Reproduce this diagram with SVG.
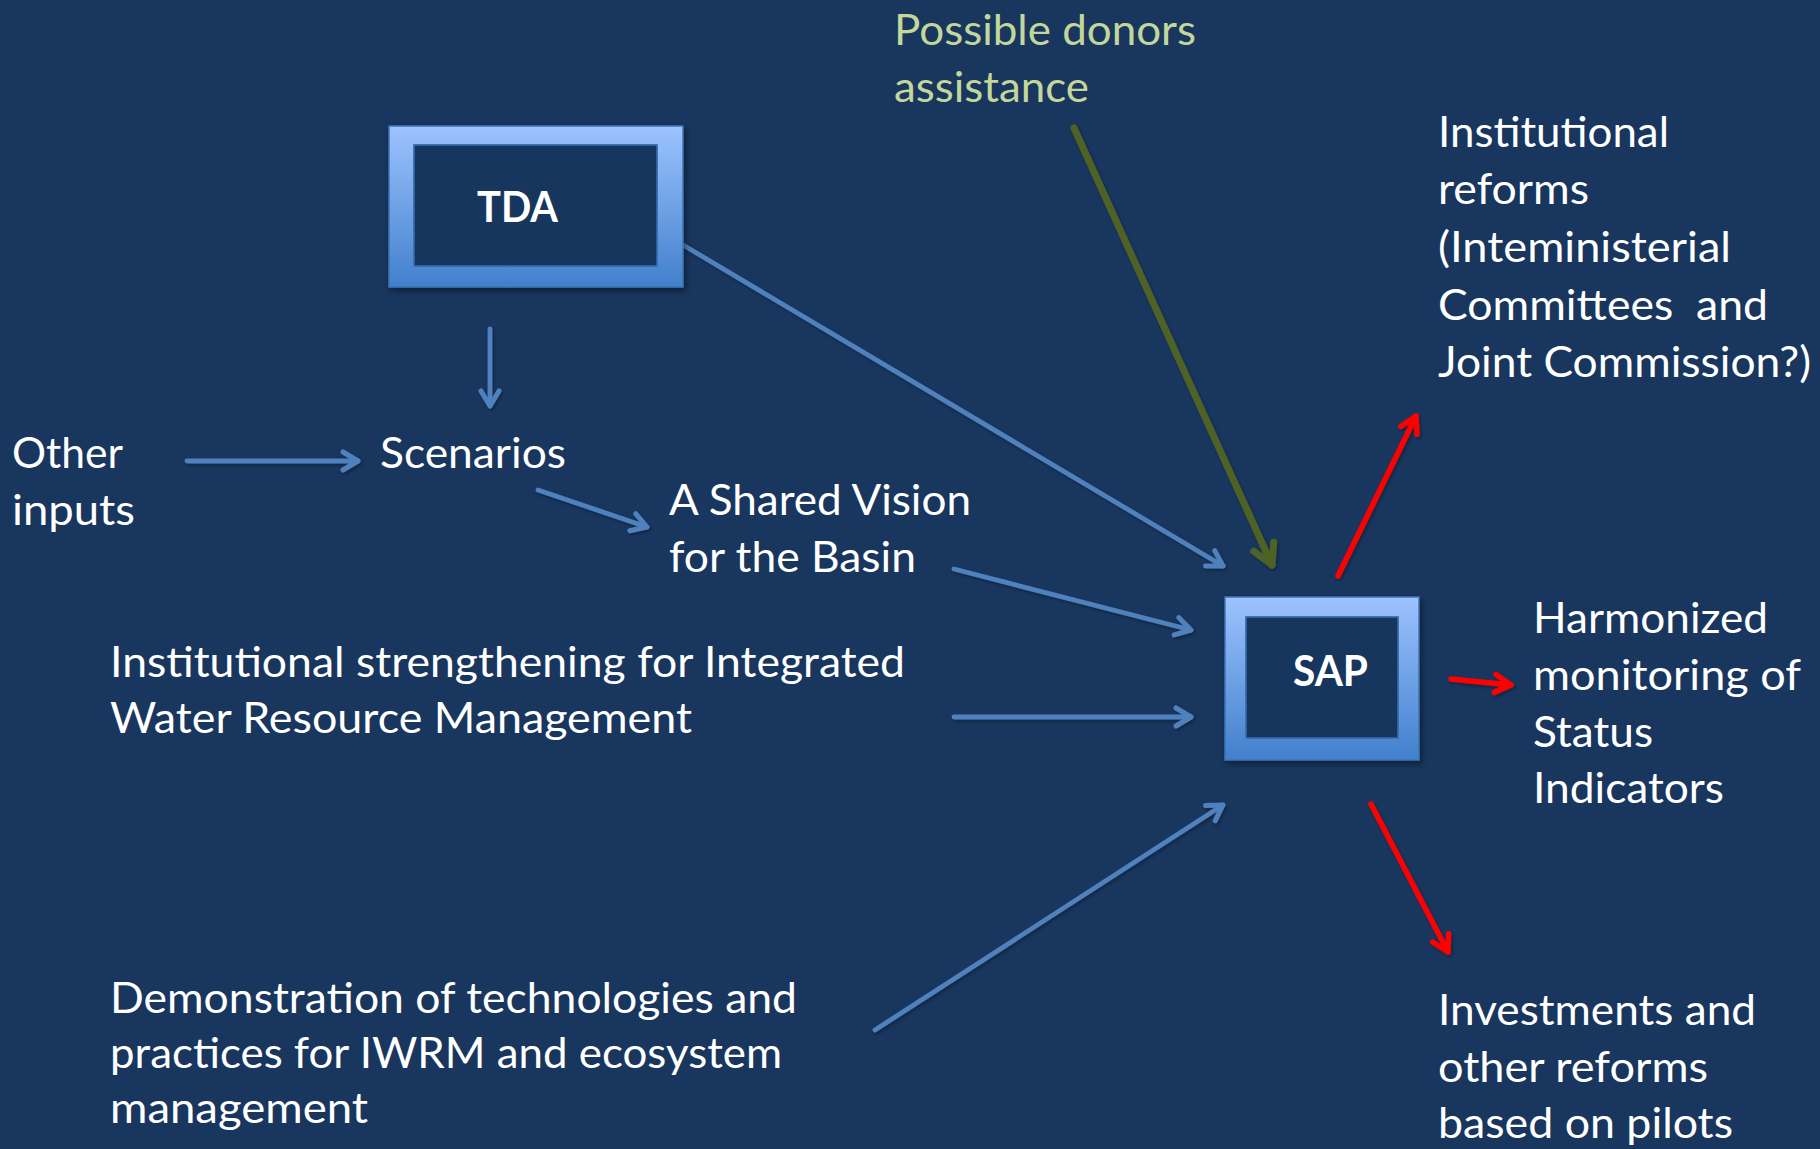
<svg xmlns="http://www.w3.org/2000/svg" width="1820" height="1149" viewBox="0 0 1820 1149">
<defs>
<linearGradient id="frameGrad" x1="0" y1="0" x2="0" y2="1">
<stop offset="0" stop-color="#9DC3FF"/>
<stop offset="1" stop-color="#4180CC"/>
</linearGradient>
<filter id="shadow" x="-10%" y="-10%" width="130%" height="130%">
<feDropShadow dx="2" dy="3" stdDeviation="3" flood-color="#000" flood-opacity="0.45"/>
</filter>
<filter id="lshadow" x="-10%" y="-10%" width="120%" height="120%">
<feDropShadow dx="1.5" dy="2" stdDeviation="1.5" flood-color="#000" flood-opacity="0.3"/>
</filter>
<marker id="ahBlue" markerUnits="userSpaceOnUse" markerWidth="40" markerHeight="40" refX="0" refY="0" orient="auto" overflow="visible">
<path d="M-15,-9 L0,0 L-15,9" fill="none" stroke="#4F81BD" stroke-width="5" stroke-linecap="round" stroke-linejoin="round"/>
</marker>
<marker id="ahRed" markerUnits="userSpaceOnUse" markerWidth="40" markerHeight="40" refX="0" refY="0" orient="auto" overflow="visible">
<path d="M-16,-9 L0,0 L-16,9" fill="none" stroke="#FF0000" stroke-width="5.5" stroke-linecap="round" stroke-linejoin="round"/>
</marker>
<marker id="ahGreen" markerUnits="userSpaceOnUse" markerWidth="40" markerHeight="40" refX="0" refY="0" orient="auto" overflow="visible">
<path d="M-20,-11 L0,0 L-20,11" fill="none" stroke="#4F6228" stroke-width="7" stroke-linecap="round" stroke-linejoin="round"/>
</marker>
</defs>
<style>
.t{font-family:"Lato","Carlito","Liberation Sans",sans-serif;font-size:42px;fill:#FFFFFF;}
.g{fill:#C3D69B;}
.b{font-weight:bold;}
.blue{stroke:#4F81BD;stroke-width:4.8;fill:none;marker-end:url(#ahBlue);}
.red{stroke:#FF0000;stroke-width:5.5;fill:none;marker-end:url(#ahRed);}
.green{stroke:#4F6228;stroke-width:7;fill:none;marker-end:url(#ahGreen);}
.frame{fill:url(#frameGrad);stroke:#3F74B8;stroke-width:1.5;}
.inner{fill:#17365D;stroke:#3A6DB0;stroke-width:1.5;}
</style>
<rect x="0" y="0" width="1820" height="1149" fill="#18365E"/>

<g id="connectors" filter="url(#lshadow)" stroke-linecap="round">
<line class="blue" x1="683" y1="245" x2="1223" y2="566"/>
<line class="blue" x1="490" y1="329" x2="490" y2="406"/>
<line class="blue" x1="187" y1="461" x2="358" y2="461"/>
<line class="blue" x1="538" y1="490" x2="647" y2="527"/>
<line class="blue" x1="954" y1="569" x2="1191" y2="630"/>
<line class="blue" x1="954" y1="717" x2="1191" y2="717"/>
<line class="blue" x1="875" y1="1030" x2="1223" y2="805"/>
<line class="green" x1="1074" y1="128" x2="1272" y2="565"/>
<line class="red" x1="1338" y1="576" x2="1416" y2="416"/>
<line class="red" x1="1451" y1="679" x2="1511" y2="685"/>
<line class="red" x1="1371" y1="804" x2="1448" y2="952"/>
</g>

<g id="node-tda">
<g filter="url(#shadow)">
<path class="frame" fill-rule="evenodd" d="M389,126 H683 V287 H389 Z M414,145 V266 H657 V145 Z"/>
</g>
<rect class="inner" x="414" y="145" width="243" height="121"/>
<text class="t b" x="477" y="222" textLength="81" lengthAdjust="spacingAndGlyphs">TDA</text>
</g>

<g id="node-sap">
<g filter="url(#shadow)">
<path class="frame" fill-rule="evenodd" d="M1225,597 H1419 V760 H1225 Z M1246,617 V738 H1398 V617 Z"/>
</g>
<rect class="inner" x="1246" y="617" width="152" height="121"/>
<text class="t b" x="1293" y="686" textLength="75" lengthAdjust="spacingAndGlyphs">SAP</text>
</g>

<g id="node-donors">
<text class="t g" x="894" y="45" textLength="302" lengthAdjust="spacingAndGlyphs">Possible donors</text>
<text class="t g" x="894" y="102" textLength="195" lengthAdjust="spacingAndGlyphs">assistance</text>
</g>

<g id="node-institutional-reforms">
<text class="t" x="1438" y="147" textLength="231" lengthAdjust="spacingAndGlyphs">Institutional</text>
<text class="t" x="1438" y="204" textLength="151" lengthAdjust="spacingAndGlyphs">reforms</text>
<text class="t" x="1438" y="262" textLength="293" lengthAdjust="spacingAndGlyphs">(Inteministerial</text>
<text class="t" x="1438" y="320" textLength="330" lengthAdjust="spacingAndGlyphs" xml:space="preserve">Committees  and</text>
<text class="t" x="1438" y="377" textLength="373" lengthAdjust="spacingAndGlyphs">Joint Commission?)</text>
</g>

<g id="node-harmonized">
<text class="t" x="1533" y="633" textLength="235" lengthAdjust="spacingAndGlyphs">Harmonized</text>
<text class="t" x="1533" y="690" textLength="268" lengthAdjust="spacingAndGlyphs">monitoring of</text>
<text class="t" x="1533" y="747" textLength="120" lengthAdjust="spacingAndGlyphs">Status</text>
<text class="t" x="1533" y="803" textLength="191" lengthAdjust="spacingAndGlyphs">Indicators</text>
</g>

<g id="node-investments">
<text class="t" x="1438" y="1025" textLength="318" lengthAdjust="spacingAndGlyphs">Investments and</text>
<text class="t" x="1438" y="1082" textLength="270" lengthAdjust="spacingAndGlyphs">other reforms</text>
<text class="t" x="1438" y="1138" textLength="295" lengthAdjust="spacingAndGlyphs">based on pilots</text>
</g>

<g id="node-other-inputs">
<text class="t" x="12" y="468" textLength="111" lengthAdjust="spacingAndGlyphs">Other</text>
<text class="t" x="12" y="525" textLength="123" lengthAdjust="spacingAndGlyphs">inputs</text>
</g>

<g id="node-scenarios">
<text class="t" x="380" y="468" textLength="186" lengthAdjust="spacingAndGlyphs">Scenarios</text>
</g>

<g id="node-shared-vision">
<text class="t" x="669" y="515" textLength="302" lengthAdjust="spacingAndGlyphs">A Shared Vision</text>
<text class="t" x="669" y="572" textLength="247" lengthAdjust="spacingAndGlyphs">for the Basin</text>
</g>

<g id="node-institutional-strengthening">
<text class="t" x="110" y="677" textLength="795" lengthAdjust="spacingAndGlyphs">Institutional strengthening for Integrated</text>
<text class="t" x="110" y="733" textLength="582" lengthAdjust="spacingAndGlyphs">Water Resource Management</text>
</g>

<g id="node-demonstration">
<text class="t" x="110" y="1013" textLength="687" lengthAdjust="spacingAndGlyphs">Demonstration of technologies and</text>
<text class="t" x="110" y="1068" textLength="672" lengthAdjust="spacingAndGlyphs">practices for IWRM and ecosystem</text>
<text class="t" x="110" y="1123" textLength="258" lengthAdjust="spacingAndGlyphs">management</text>
</g>
</svg>
